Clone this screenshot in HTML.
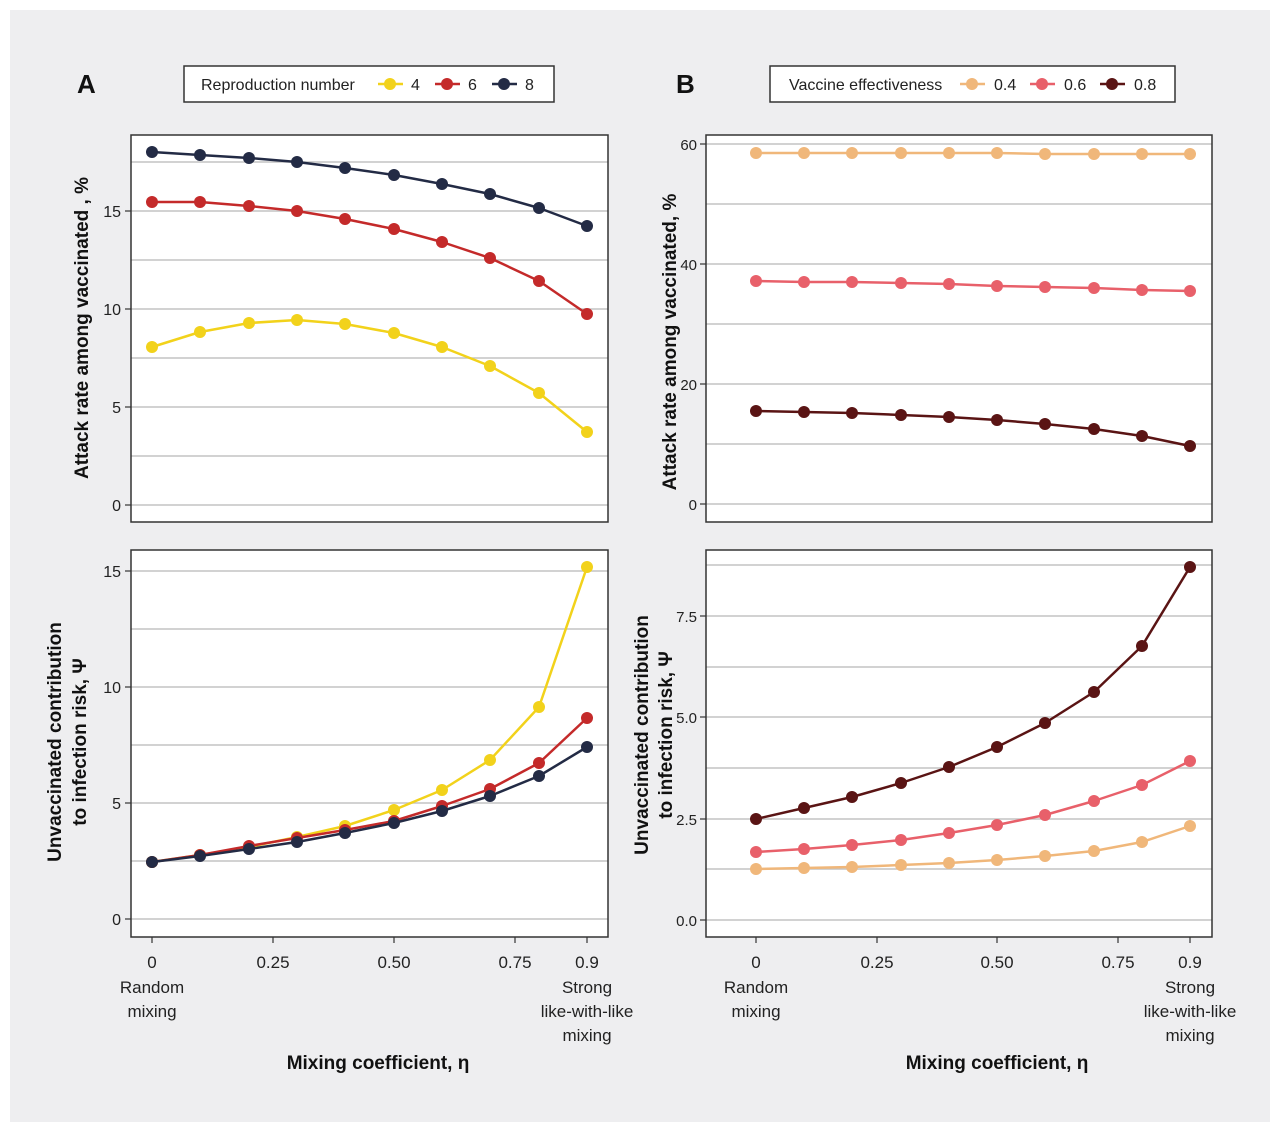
<!DOCTYPE html>
<html><head><meta charset="utf-8"><style>
body{margin:0;background:#fff;}
svg{display:block;font-family:"Liberation Sans",sans-serif;}
</style></head><body>
<svg width="1280" height="1132" viewBox="0 0 1280 1132">
<defs>
<marker id="mY" markerUnits="userSpaceOnUse" markerWidth="14" markerHeight="14" refX="7" refY="7"><circle cx="7" cy="7" r="6" fill="#f2d21b"/></marker>
<marker id="mR" markerUnits="userSpaceOnUse" markerWidth="14" markerHeight="14" refX="7" refY="7"><circle cx="7" cy="7" r="6" fill="#c42a2a"/></marker>
<marker id="mN" markerUnits="userSpaceOnUse" markerWidth="14" markerHeight="14" refX="7" refY="7"><circle cx="7" cy="7" r="6" fill="#232b45"/></marker>
<marker id="mO" markerUnits="userSpaceOnUse" markerWidth="14" markerHeight="14" refX="7" refY="7"><circle cx="7" cy="7" r="6" fill="#f0b77a"/></marker>
<marker id="mP" markerUnits="userSpaceOnUse" markerWidth="14" markerHeight="14" refX="7" refY="7"><circle cx="7" cy="7" r="6" fill="#e8606a"/></marker>
<marker id="mD" markerUnits="userSpaceOnUse" markerWidth="14" markerHeight="14" refX="7" refY="7"><circle cx="7" cy="7" r="6" fill="#5a1414"/></marker>
</defs>
<rect x="10" y="10" width="1260" height="1112" fill="#eeeef0"/>

<text x="77" y="93" font-size="26" font-weight="bold" fill="#111">A</text>
<text x="676" y="93" font-size="26" font-weight="bold" fill="#111">B</text>

<rect x="184" y="66" width="370" height="36" fill="#fff" stroke="#333" stroke-width="1.5"/>
<text x="201" y="90" font-size="16" fill="#222">Reproduction number</text>
<line x1="378" y1="84" x2="403" y2="84" stroke="#f2d21b" stroke-width="2.5"/><circle cx="390" cy="84" r="6" fill="#f2d21b"/>
<text x="411" y="90" font-size="16" fill="#222">4</text>
<line x1="435" y1="84" x2="460" y2="84" stroke="#c42a2a" stroke-width="2.5"/><circle cx="447" cy="84" r="6" fill="#c42a2a"/>
<text x="468" y="90" font-size="16" fill="#222">6</text>
<line x1="492" y1="84" x2="517" y2="84" stroke="#232b45" stroke-width="2.5"/><circle cx="504" cy="84" r="6" fill="#232b45"/>
<text x="525" y="90" font-size="16" fill="#222">8</text>

<rect x="770" y="66" width="405" height="36" fill="#fff" stroke="#333" stroke-width="1.5"/>
<text x="789" y="90" font-size="16" fill="#222">Vaccine effectiveness</text>
<line x1="960" y1="84" x2="985" y2="84" stroke="#f0b77a" stroke-width="2.5"/><circle cx="972" cy="84" r="6" fill="#f0b77a"/>
<text x="994" y="90" font-size="16" fill="#222">0.4</text>
<line x1="1030" y1="84" x2="1055" y2="84" stroke="#e8606a" stroke-width="2.5"/><circle cx="1042" cy="84" r="6" fill="#e8606a"/>
<text x="1064" y="90" font-size="16" fill="#222">0.6</text>
<line x1="1100" y1="84" x2="1125" y2="84" stroke="#5a1414" stroke-width="2.5"/><circle cx="1112" cy="84" r="6" fill="#5a1414"/>
<text x="1134" y="90" font-size="16" fill="#222">0.8</text>

<rect x="131" y="135" width="477" height="387" fill="#fff"/>
<rect x="131" y="550" width="477" height="387" fill="#fff"/>
<rect x="706" y="135" width="506" height="387" fill="#fff"/>
<rect x="706" y="550" width="506" height="387" fill="#fff"/>

<g stroke="#c4c4c4" stroke-width="1.5">
<line x1="131" x2="608" y1="505" y2="505"/><line x1="131" x2="608" y1="456" y2="456"/><line x1="131" x2="608" y1="407" y2="407"/><line x1="131" x2="608" y1="358" y2="358"/><line x1="131" x2="608" y1="309" y2="309"/><line x1="131" x2="608" y1="260" y2="260"/><line x1="131" x2="608" y1="211" y2="211"/><line x1="131" x2="608" y1="162" y2="162"/>
<line x1="131" x2="608" y1="919" y2="919"/><line x1="131" x2="608" y1="861" y2="861"/><line x1="131" x2="608" y1="803" y2="803"/><line x1="131" x2="608" y1="745" y2="745"/><line x1="131" x2="608" y1="687" y2="687"/><line x1="131" x2="608" y1="629" y2="629"/><line x1="131" x2="608" y1="571" y2="571"/>
<line x1="706" x2="1212" y1="504" y2="504"/><line x1="706" x2="1212" y1="444" y2="444"/><line x1="706" x2="1212" y1="384" y2="384"/><line x1="706" x2="1212" y1="324" y2="324"/><line x1="706" x2="1212" y1="264" y2="264"/><line x1="706" x2="1212" y1="204" y2="204"/><line x1="706" x2="1212" y1="144" y2="144"/>
<line x1="706" x2="1212" y1="920" y2="920"/><line x1="706" x2="1212" y1="869" y2="869"/><line x1="706" x2="1212" y1="819" y2="819"/><line x1="706" x2="1212" y1="768" y2="768"/><line x1="706" x2="1212" y1="717" y2="717"/><line x1="706" x2="1212" y1="667" y2="667"/><line x1="706" x2="1212" y1="616" y2="616"/><line x1="706" x2="1212" y1="565" y2="565"/>
</g>

<g fill="none" stroke-width="2.5" stroke-linejoin="round">
<polyline stroke="#232b45" marker-start="url(#mN)" marker-mid="url(#mN)" marker-end="url(#mN)" points="152,152 200,155 249,158 297,162 345,168 394,175 442,184 490,194 539,208 587,226"/>
<polyline stroke="#c42a2a" marker-start="url(#mR)" marker-mid="url(#mR)" marker-end="url(#mR)" points="152,202 200,202 249,206 297,211 345,219 394,229 442,242 490,258 539,281 587,314"/>
<polyline stroke="#f2d21b" marker-start="url(#mY)" marker-mid="url(#mY)" marker-end="url(#mY)" points="152,347 200,332 249,323 297,320 345,324 394,333 442,347 490,366 539,393 587,432"/>

<polyline stroke="#f2d21b" marker-start="url(#mY)" marker-mid="url(#mY)" marker-end="url(#mY)" points="152,862 200,855 249,847 297,837 345,826 394,810 442,790 490,760 539,707 587,567"/>
<polyline stroke="#c42a2a" marker-start="url(#mR)" marker-mid="url(#mR)" marker-end="url(#mR)" points="152,862 200,855 249,846 297,838 345,830 394,821 442,806 490,789 539,763 587,718"/>
<polyline stroke="#232b45" marker-start="url(#mN)" marker-mid="url(#mN)" marker-end="url(#mN)" points="152,862 200,856 249,849 297,842 345,833 394,823 442,811 490,796 539,776 587,747"/>

<polyline stroke="#f0b77a" marker-start="url(#mO)" marker-mid="url(#mO)" marker-end="url(#mO)" points="756,153 804,153 852,153 901,153 949,153 997,153 1045,154 1094,154 1142,154 1190,154"/>
<polyline stroke="#e8606a" marker-start="url(#mP)" marker-mid="url(#mP)" marker-end="url(#mP)" points="756,281 804,282 852,282 901,283 949,284 997,286 1045,287 1094,288 1142,290 1190,291"/>
<polyline stroke="#5a1414" marker-start="url(#mD)" marker-mid="url(#mD)" marker-end="url(#mD)" points="756,411 804,412 852,413 901,415 949,417 997,420 1045,424 1094,429 1142,436 1190,446"/>

<polyline stroke="#f0b77a" marker-start="url(#mO)" marker-mid="url(#mO)" marker-end="url(#mO)" points="756,869 804,868 852,867 901,865 949,863 997,860 1045,856 1094,851 1142,842 1190,826"/>
<polyline stroke="#e8606a" marker-start="url(#mP)" marker-mid="url(#mP)" marker-end="url(#mP)" points="756,852 804,849 852,845 901,840 949,833 997,825 1045,815 1094,801 1142,785 1190,761"/>
<polyline stroke="#5a1414" marker-start="url(#mD)" marker-mid="url(#mD)" marker-end="url(#mD)" points="756,819 804,808 852,797 901,783 949,767 997,747 1045,723 1094,692 1142,646 1190,567"/>
</g>

<g fill="none" stroke="#333" stroke-width="1.5">
<rect x="131" y="135" width="477" height="387"/>
<rect x="131" y="550" width="477" height="387"/>
<rect x="706" y="135" width="506" height="387"/>
<rect x="706" y="550" width="506" height="387"/>
</g>

<g stroke="#333" stroke-width="1.2">
<line x1="125" x2="131" y1="505" y2="505"/><line x1="125" x2="131" y1="407" y2="407"/><line x1="125" x2="131" y1="309" y2="309"/><line x1="125" x2="131" y1="211" y2="211"/>
<line x1="125" x2="131" y1="919" y2="919"/><line x1="125" x2="131" y1="803" y2="803"/><line x1="125" x2="131" y1="687" y2="687"/><line x1="125" x2="131" y1="571" y2="571"/>
<line x1="700" x2="706" y1="504" y2="504"/><line x1="700" x2="706" y1="384" y2="384"/><line x1="700" x2="706" y1="264" y2="264"/><line x1="700" x2="706" y1="144" y2="144"/>
<line x1="700" x2="706" y1="920" y2="920"/><line x1="700" x2="706" y1="819" y2="819"/><line x1="700" x2="706" y1="717" y2="717"/><line x1="700" x2="706" y1="616" y2="616"/>
<line x1="152" x2="152" y1="937" y2="943"/><line x1="273" x2="273" y1="937" y2="943"/><line x1="394" x2="394" y1="937" y2="943"/><line x1="515" x2="515" y1="937" y2="943"/><line x1="587" x2="587" y1="937" y2="943"/>
<line x1="756" x2="756" y1="937" y2="943"/><line x1="877" x2="877" y1="937" y2="943"/><line x1="997" x2="997" y1="937" y2="943"/><line x1="1118" x2="1118" y1="937" y2="943"/><line x1="1190" x2="1190" y1="937" y2="943"/>
</g>

<g font-size="16" fill="#222" text-anchor="end">
<text x="121" y="511">0</text><text x="121" y="413">5</text><text x="121" y="315">10</text><text x="121" y="217">15</text>
<text x="121" y="925">0</text><text x="121" y="809">5</text><text x="121" y="693">10</text><text x="121" y="577">15</text>
</g>
<g font-size="15" fill="#222" text-anchor="end">
<text x="697" y="510">0</text><text x="697" y="390">20</text><text x="697" y="270">40</text><text x="697" y="150">60</text>
<text x="697" y="926">0.0</text><text x="697" y="825">2.5</text><text x="697" y="723">5.0</text><text x="697" y="622">7.5</text>
</g>
<g font-size="17" fill="#222" text-anchor="middle">
<text x="152" y="968">0</text><text x="273" y="968">0.25</text><text x="394" y="968">0.50</text><text x="515" y="968">0.75</text><text x="587" y="968">0.9</text>
<text x="152" y="993">Random</text><text x="152" y="1017">mixing</text>
<text x="587" y="993">Strong</text><text x="587" y="1017">like-with-like</text><text x="587" y="1041">mixing</text>
<text x="756" y="968">0</text><text x="877" y="968">0.25</text><text x="997" y="968">0.50</text><text x="1118" y="968">0.75</text><text x="1190" y="968">0.9</text>
<text x="756" y="993">Random</text><text x="756" y="1017">mixing</text>
<text x="1190" y="993">Strong</text><text x="1190" y="1017">like-with-like</text><text x="1190" y="1041">mixing</text>
</g>
<g font-size="19" font-weight="bold" fill="#111" text-anchor="middle">
<text x="378" y="1069">Mixing coefficient, η</text>
<text x="997" y="1069">Mixing coefficient, η</text>
<text transform="translate(88,328) rotate(-90)">Attack rate among vaccinated , %</text>
<text transform="translate(676,342) rotate(-90)">Attack rate among vaccinated, %</text>
<text transform="translate(61,742) rotate(-90)">Unvaccinated contribution</text>
<text transform="translate(86,742) rotate(-90)">to infection risk, Ψ</text>
<text transform="translate(648,735) rotate(-90)">Unvaccinated contribution</text>
<text transform="translate(672,735) rotate(-90)">to infection risk, Ψ</text>
</g>
</svg>
</body></html>
